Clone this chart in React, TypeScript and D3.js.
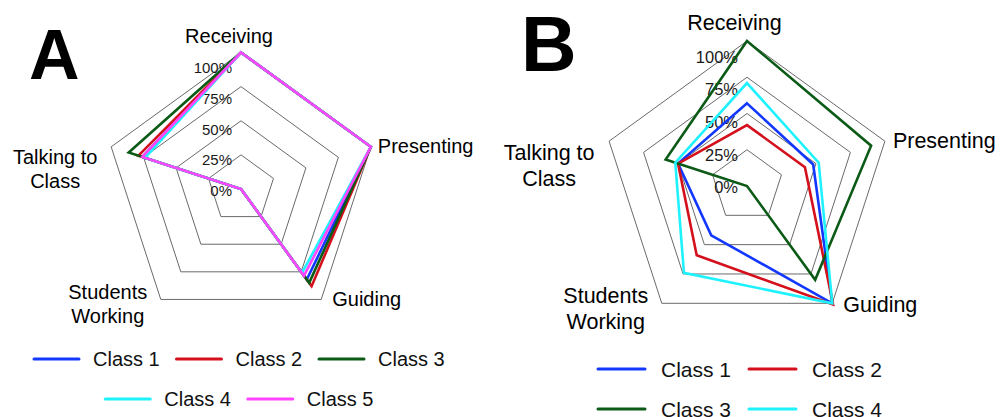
import React from "react";
import * as d3 from "d3";

// ---------- data ----------
const axes = ["Receiving", "Presenting", "Guiding", "Students Working", "Talking to Class"];
const axisLabelLines = [["Receiving"], ["Presenting"], ["Guiding"], ["Students", "Working"], ["Talking to", "Class"]];
const ticks = [0, 25, 50, 75, 100];

const classesA = ["Class 1", "Class 2", "Class 3", "Class 4", "Class 5"];
const classesB = ["Class 1", "Class 2", "Class 3", "Class 4"];

// values in %, order: Receiving, Presenting, Guiding, Students Working, Talking to Class
const a1 = [100, 100, 82, 0, 76];
const a2 = [100, 100, 88, 0, 79];
const a3 = [100, 100, 85, 0, 86.5];
const a4 = [100, 100, 76, 0, 74];
const a5 = [100, 100, 78.5, 0, 76];

const b1 = [57, 48, 100, 42, 50];
const b2 = [42, 42, 101, 59, 50];
const b3 = [100, 90, 80, 0, 59];
const b4 = [71, 52, 100, 74, 52];

const colors = ["#1238ff", "#d3101c", "#0b5a16", "#1ff2ff", "#ff45ff"];

// ---------- layout (styles / positions) ----------
type Panel = {
  letter: string;
  letterX: number;
  letterY: number;
  letterSize: number;
  cx: number;
  cy: number;
  R: number;
  labelSize: number;
  tickSize: number;
  legendSize: number;
  series: number[][];
  names: string[];
  legendRows: number[][];
  legendCx: number;
  legendY: number[];
  legendItemW: number;
  legendLineW: number;
  legendGap: number;
  legendTextW: number;
  // label offsets relative to the axis end point
  labelOff: { dx: number; dy: number; anchor: string }[];
};

const panels: Panel[] = [
  {
    letter: "A",
    letterX: 29,
    letterY: 79,
    letterSize: 70,
    cx: 241,
    cy: 189,
    R: 136.5,
    labelSize: 20,
    tickSize: 15,
    legendSize: 20,
    series: [a1, a2, a3, a4, a5],
    names: classesA,
    legendRows: [[0, 1, 2], [3, 4]],
    legendCx: 239,
    legendY: [359, 399],
    legendItemW: 142.5,
    legendLineW: 45,
    legendGap: 14,
    legendTextW: 66,
    labelOff: [
      { dx: -12, dy: -10, anchor: "middle" },
      { dx: 7, dy: 6, anchor: "start" },
      { dx: 11, dy: 7, anchor: "start" },
      { dx: -53, dy: 0, anchor: "middle" },
      { dx: -56, dy: 17, anchor: "middle" },
    ],
  },
  {
    letter: "B",
    letterX: 521,
    letterY: 71,
    letterSize: 77,
    cx: 747,
    cy: 186,
    R: 145,
    labelSize: 21.5,
    tickSize: 16.5,
    legendSize: 21,
    series: [b1, b2, b3, b4],
    names: classesB,
    legendRows: [[0, 1], [2, 3]],
    legendCx: 740,
    legendY: [369, 409],
    legendItemW: 151,
    legendLineW: 47,
    legendGap: 16,
    legendTextW: 70,
    labelOff: [
      { dx: -12.5, dy: -11, anchor: "middle" },
      { dx: 8, dy: 7, anchor: "start" },
      { dx: 11, dy: 9, anchor: "start" },
      { dx: -56, dy: 0, anchor: "middle" },
      { dx: -60, dy: 19, anchor: "middle" },
    ],
  },
];

const FONT = "'Liberation Sans', Arial, Helvetica, sans-serif";

function RadarPanel({ p }: { p: Panel }) {
  const n = axes.length;
  const r = d3.scaleLinear().domain([0, 100]).range([0, p.R]);
  const angle = (i: number) => (i * 2 * Math.PI) / n;
  const pt = (i: number, v: number): [number, number] => [
    p.cx + r(v) * Math.sin(angle(i)),
    p.cy - r(v) * Math.cos(angle(i)),
  ];

  const radial = d3
    .lineRadial<number>()
    .angle((_d, i) => angle(i))
    .radius((d) => r(d))
    .curve(d3.curveLinearClosed);

  const gridRings = ticks.filter((t) => t > 0);

  // legend
  const legendItems: JSX.Element[] = [];
  p.legendRows.forEach((row, ri) => {
    const inkW = p.legendLineW + p.legendGap + p.legendTextW;
    const total = row.length * p.legendItemW - (p.legendItemW - inkW);
    const x0 = p.legendCx - total / 2;
    row.forEach((si, k) => {
      const x = x0 + k * p.legendItemW;
      const y = p.legendY[ri];
      legendItems.push(
        <g key={`lg${si}`}>
          <line x1={x} x2={x + p.legendLineW} y1={y} y2={y} stroke={colors[si]} strokeWidth={3} strokeLinecap="round" />
          <text x={x + p.legendLineW + p.legendGap} y={y + p.legendSize * 0.36} fontSize={p.legendSize} fontFamily={FONT} fill="#111">
            {p.names[si]}
          </text>
        </g>
      );
    });
  });

  return (
    <g>
      <text x={p.letterX} y={p.letterY} fontSize={p.letterSize} fontWeight={900} fontFamily={FONT} fill="#000">
        {p.letter}
      </text>

      {/* grid rings */}
      <g transform={`translate(${p.cx},${p.cy})`}>
        {gridRings.map((t) => (
          <path key={t} d={radial(axes.map(() => t)) || ""} fill="none" stroke="#6a6a6a" strokeWidth={1} />
        ))}
      </g>

      {/* tick labels */}
      {ticks.map((t) => (
        <text
          key={`t${t}`}
          x={p.cx - 9}
          y={p.cy - 0.9 * r(t) + 3}
          fontSize={p.tickSize}
          fontFamily={FONT}
          textAnchor="end"
          dominantBaseline="middle"
          fill="#1a1a1a"
        >
          {t}%
        </text>
      ))}

      {/* series */}
      <g transform={`translate(${p.cx},${p.cy})`}>
        {p.series.map((s, si) => (
          <path key={si} d={radial(s) || ""} fill="none" stroke={colors[si]} strokeWidth={2.6} strokeLinejoin="miter" />
        ))}
      </g>

      {/* axis labels */}
      {axes.map((a, i) => {
        const [x, y] = pt(i, 100);
        const o = p.labelOff[i];
        return (
          <text key={a} x={x + o.dx} y={y + o.dy} fontSize={p.labelSize} fontFamily={FONT} textAnchor={o.anchor} fill="#000">
            {axisLabelLines[i].map((ln, li) => (
              <tspan key={li} x={x + o.dx} dy={li === 0 ? 0 : p.labelSize * 1.2}>
                {ln}
              </tspan>
            ))}
          </text>
        );
      })}

      {legendItems}
    </g>
  );
}

export default function App() {
  return (
    <svg
      width={1000}
      height={417}
      viewBox="0 0 1000 417"
      style={{ position: "absolute", left: 0, top: 0, background: "#fff" }}
    >
      <rect width={1000} height={417} fill="#fff" />
      {panels.map((p) => (
        <RadarPanel key={p.letter} p={p} />
      ))}
    </svg>
  );
}
